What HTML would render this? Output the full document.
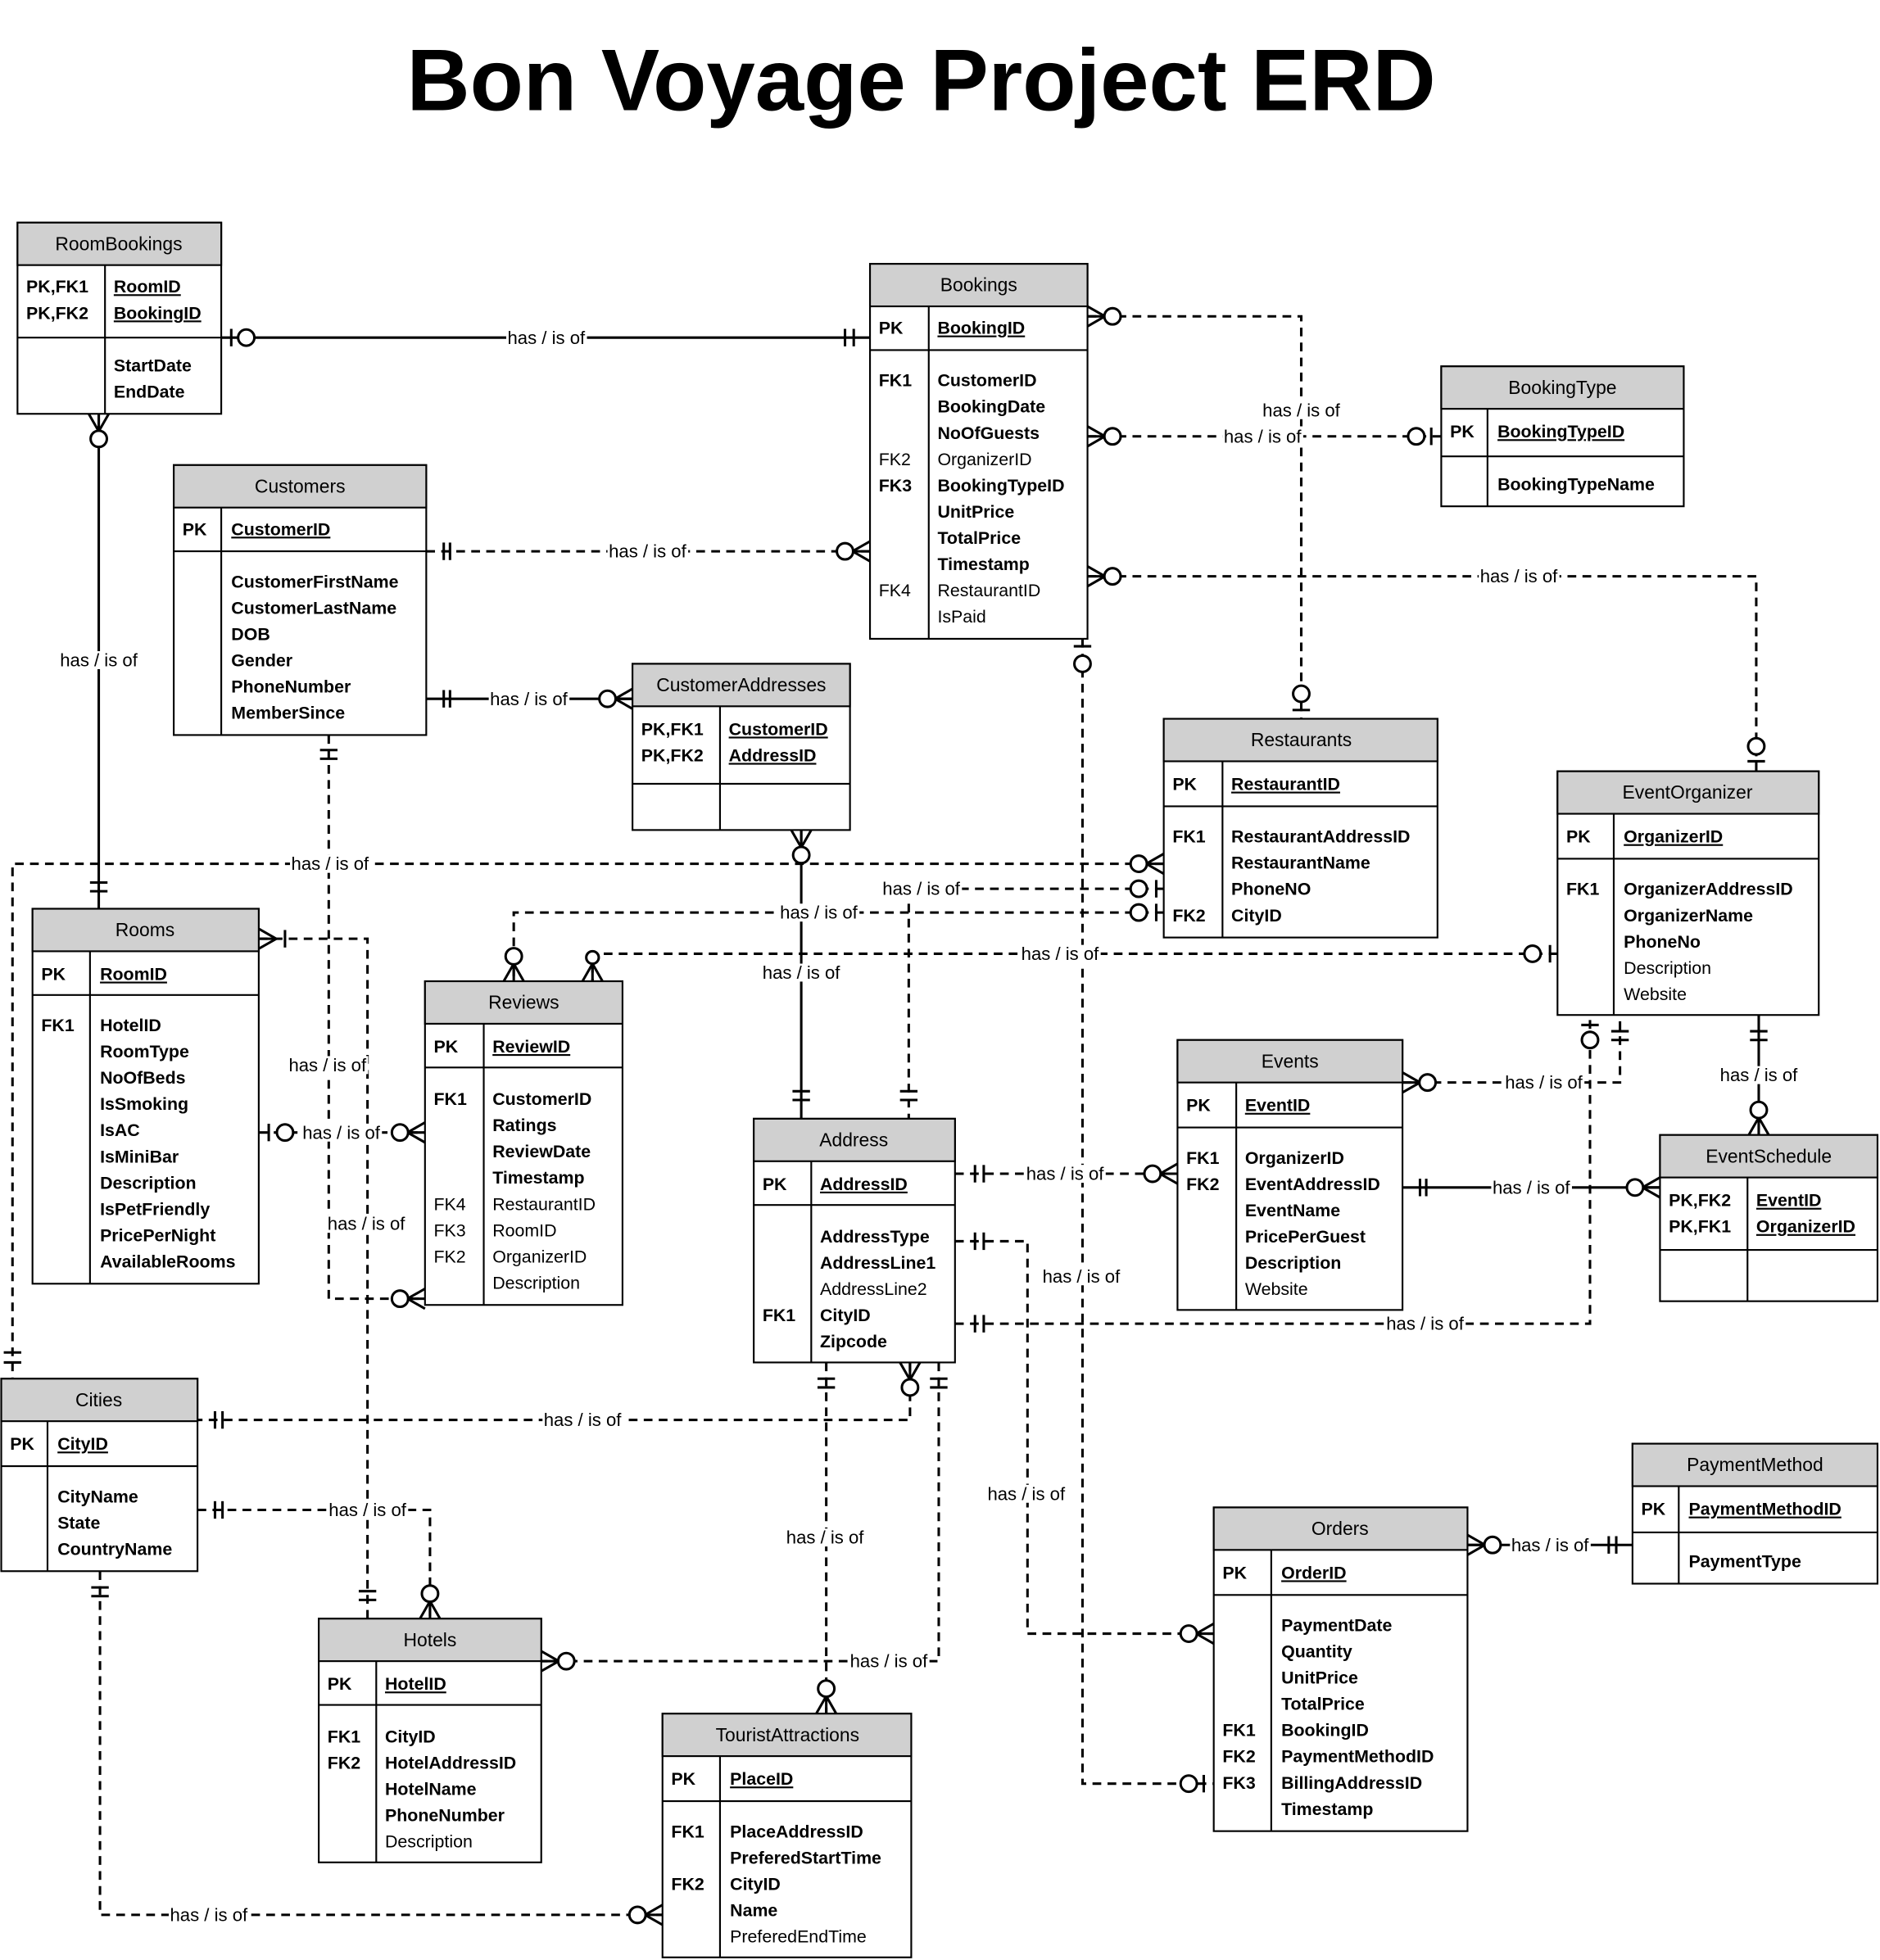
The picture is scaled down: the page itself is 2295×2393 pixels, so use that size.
<!DOCTYPE html>
<html><head><meta charset="utf-8"><style>
html,body{margin:0;padding:0;background:#fff}
svg{display:block}
text{font-family:"Liberation Sans",sans-serif;font-size:14px;fill:#000}
.b{font-weight:bold}
.u{text-decoration:underline}
.h{text-anchor:middle;font-size:15px}
.l{text-anchor:middle;font-size:14.5px}
</style></head><body>
<svg id="s" width="2295" height="2393" viewBox="0 0 1504 1568" xmlns="http://www.w3.org/2000/svg">
<rect width="1504" height="1568" fill="#fff"/>
<g id="tables"></g>
<g id="conn"></g>
<g id="marks"></g>
<text x="737" y="88" text-anchor="middle" style="font-size:70px;font-weight:bold">Bon Voyage Project ERD</text>

<!-- RoomBookings -->
<text class="h" x="95" y="200">RoomBookings</text>
<text class="b" x="21" y="234">PK,FK1</text><text class="b u" x="91" y="234">RoomID</text>
<text class="b" x="21" y="255">PK,FK2</text><text class="b u" x="91" y="255">BookingID</text>
<text class="b" x="91" y="297">StartDate</text><text class="b" x="91" y="318">EndDate</text>

<!-- Bookings -->
<text class="h" x="783" y="233">Bookings</text>
<text class="b" x="703" y="267">PK</text><text class="b u" x="750" y="267">BookingID</text>
<text class="b" x="703" y="309">FK1</text>
<text x="703" y="372">FK2</text>
<text class="b" x="703" y="393">FK3</text>
<text x="703" y="477">FK4</text>
<text class="b" x="750" y="309">CustomerID</text>
<text class="b" x="750" y="330">BookingDate</text>
<text class="b" x="750" y="351">NoOfGuests</text>
<text x="750" y="372">OrganizerID</text>
<text class="b" x="750" y="393">BookingTypeID</text>
<text class="b" x="750" y="414">UnitPrice</text>
<text class="b" x="750" y="435">TotalPrice</text>
<text class="b" x="750" y="456">Timestamp</text>
<text x="750" y="477">RestaurantID</text>
<text x="750" y="498">IsPaid</text>

<!-- BookingType -->
<text class="h" x="1250" y="315">BookingType</text>
<text class="b" x="1160" y="350">PK</text><text class="b u" x="1198" y="350">BookingTypeID</text>
<text class="b" x="1198" y="392">BookingTypeName</text>

<!-- Customers -->
<text class="h" x="240" y="394">Customers</text>
<text class="b" x="146" y="428">PK</text><text class="b u" x="185" y="428">CustomerID</text>
<text class="b" x="185" y="470">CustomerFirstName</text>
<text class="b" x="185" y="491">CustomerLastName</text>
<text class="b" x="185" y="512">DOB</text>
<text class="b" x="185" y="533">Gender</text>
<text class="b" x="185" y="554">PhoneNumber</text>
<text class="b" x="185" y="575">MemberSince</text>

<!-- CustomerAddresses -->
<text class="h" x="593" y="553">CustomerAddresses</text>
<text class="b" x="513" y="588">PK,FK1</text><text class="b u" x="583" y="588">CustomerID</text>
<text class="b" x="513" y="609">PK,FK2</text><text class="b u" x="583" y="609">AddressID</text>

<!-- Restaurants -->
<text class="h" x="1041" y="597">Restaurants</text>
<text class="b" x="938" y="632">PK</text><text class="b u" x="985" y="632">RestaurantID</text>
<text class="b" x="938" y="674">FK1</text><text class="b" x="938" y="737">FK2</text>
<text class="b" x="985" y="674">RestaurantAddressID</text>
<text class="b" x="985" y="695">RestaurantName</text>
<text class="b" x="985" y="716">PhoneNO</text>
<text class="b" x="985" y="737">CityID</text>

<!-- EventOrganizer -->
<text class="h" x="1350" y="639">EventOrganizer</text>
<text class="b" x="1253" y="674">PK</text><text class="b u" x="1299" y="674">OrganizerID</text>
<text class="b" x="1253" y="716">FK1</text>
<text class="b" x="1299" y="716">OrganizerAddressID</text>
<text class="b" x="1299" y="737">OrganizerName</text>
<text class="b" x="1299" y="758">PhoneNo</text>
<text x="1299" y="779">Description</text>
<text x="1299" y="800">Website</text>

<!-- Rooms -->
<text class="h" x="116" y="749">Rooms</text>
<text class="b" x="33" y="784">PK</text><text class="b u" x="80" y="784">RoomID</text>
<text class="b" x="33" y="825">FK1</text>
<text class="b" x="80" y="825">HotelID</text>
<text class="b" x="80" y="846">RoomType</text>
<text class="b" x="80" y="867">NoOfBeds</text>
<text class="b" x="80" y="888">IsSmoking</text>
<text class="b" x="80" y="909">IsAC</text>
<text class="b" x="80" y="930">IsMiniBar</text>
<text class="b" x="80" y="951">Description</text>
<text class="b" x="80" y="972">IsPetFriendly</text>
<text class="b" x="80" y="993">PricePerNight</text>
<text class="b" x="80" y="1014">AvailableRooms</text>

<!-- Reviews -->
<text class="h" x="419" y="807">Reviews</text>
<text class="b" x="347" y="842">PK</text><text class="b u" x="394" y="842">ReviewID</text>
<text class="b" x="347" y="884">FK1</text>
<text x="347" y="968">FK4</text><text x="347" y="989">FK3</text><text x="347" y="1010">FK2</text>
<text class="b" x="394" y="884">CustomerID</text>
<text class="b" x="394" y="905">Ratings</text>
<text class="b" x="394" y="926">ReviewDate</text>
<text class="b" x="394" y="947">Timestamp</text>
<text x="394" y="968">RestaurantID</text>
<text x="394" y="989">RoomID</text>
<text x="394" y="1010">OrganizerID</text>
<text x="394" y="1031">Description</text>

<!-- Address -->
<text class="h" x="683" y="917">Address</text>
<text class="b" x="610" y="952">PK</text><text class="b u" x="656" y="952">AddressID</text>
<text class="b" x="610" y="1057">FK1</text>
<text class="b" x="656" y="994">AddressType</text>
<text class="b" x="656" y="1015">AddressLine1</text>
<text x="656" y="1036">AddressLine2</text>
<text class="b" x="656" y="1057">CityID</text>
<text class="b" x="656" y="1078">Zipcode</text>

<!-- Events -->
<text class="h" x="1032" y="854">Events</text>
<text class="b" x="949" y="889">PK</text><text class="b u" x="996" y="889">EventID</text>
<text class="b" x="949" y="931">FK1</text><text class="b" x="949" y="952">FK2</text>
<text class="b" x="996" y="931">OrganizerID</text>
<text class="b" x="996" y="952">EventAddressID</text>
<text class="b" x="996" y="973">EventName</text>
<text class="b" x="996" y="994">PricePerGuest</text>
<text class="b" x="996" y="1015">Description</text>
<text x="996" y="1036">Website</text>

<!-- EventSchedule -->
<text class="h" x="1415" y="930">EventSchedule</text>
<text class="b" x="1335" y="965">PK,FK2</text><text class="b u" x="1405" y="965">EventID</text>
<text class="b" x="1335" y="986">PK,FK1</text><text class="b u" x="1405" y="986">OrganizerID</text>

<!-- Cities -->
<text class="h" x="79" y="1125">Cities</text>
<text class="b" x="8" y="1160">PK</text><text class="b u" x="46" y="1160">CityID</text>
<text class="b" x="46" y="1202">CityName</text>
<text class="b" x="46" y="1223">State</text>
<text class="b" x="46" y="1244">CountryName</text>

<!-- PaymentMethod -->
<text class="h" x="1404" y="1177">PaymentMethod</text>
<text class="b" x="1313" y="1212">PK</text><text class="b u" x="1351" y="1212">PaymentMethodID</text>
<text class="b" x="1351" y="1254">PaymentType</text>

<!-- Orders -->
<text class="h" x="1072" y="1228">Orders</text>
<text class="b" x="978" y="1263">PK</text><text class="b u" x="1025" y="1263">OrderID</text>
<text class="b" x="978" y="1389">FK1</text><text class="b" x="978" y="1410">FK2</text><text class="b" x="978" y="1431">FK3</text>
<text class="b" x="1025" y="1305">PaymentDate</text>
<text class="b" x="1025" y="1326">Quantity</text>
<text class="b" x="1025" y="1347">UnitPrice</text>
<text class="b" x="1025" y="1368">TotalPrice</text>
<text class="b" x="1025" y="1389">BookingID</text>
<text class="b" x="1025" y="1410">PaymentMethodID</text>
<text class="b" x="1025" y="1431">BillingAddressID</text>
<text class="b" x="1025" y="1452">Timestamp</text>

<!-- Hotels -->
<text class="h" x="344" y="1317">Hotels</text>
<text class="b" x="262" y="1352">PK</text><text class="b u" x="308" y="1352">HotelID</text>
<text class="b" x="262" y="1394">FK1</text><text class="b" x="262" y="1415">FK2</text>
<text class="b" x="308" y="1394">CityID</text>
<text class="b" x="308" y="1415">HotelAddressID</text>
<text class="b" x="308" y="1436">HotelName</text>
<text class="b" x="308" y="1457">PhoneNumber</text>
<text x="308" y="1478">Description</text>

<!-- TouristAttractions -->
<text class="h" x="630" y="1393">TouristAttractions</text>
<text class="b" x="537" y="1428">PK</text><text class="b u" x="584" y="1428">PlaceID</text>
<text class="b" x="537" y="1470">FK1</text><text class="b" x="537" y="1512">FK2</text>
<text class="b" x="584" y="1470">PlaceAddressID</text>
<text class="b" x="584" y="1491">PreferedStartTime</text>
<text class="b" x="584" y="1512">CityID</text>
<text class="b" x="584" y="1533">Name</text>
<text x="584" y="1554">PreferedEndTime</text>

<g id="labels">
<text class="l" x="437" y="275">has / is of</text>
<text class="l" x="79" y="533">has / is of</text>
<text class="l" x="518" y="446">has / is of</text>
<text class="l" x="423" y="564">has / is of</text>
<text class="l" x="1041" y="333">has / is of</text>
<text class="l" x="1010" y="354">has / is of</text>
<text class="l" x="1215" y="466">has / is of</text>
<text class="l" x="641" y="783">has / is of</text>
<text class="l" x="264" y="696">has / is of</text>
<text class="l" x="655" y="735">has / is of</text>
<text class="l" x="737" y="716">has / is of</text>
<text class="l" x="848" y="768">has / is of</text>
<text class="l" x="262" y="857">has / is of</text>
<text class="l" x="273" y="911">has / is of</text>
<text class="l" x="293" y="984">has / is of</text>
<text class="l" x="852" y="944">has / is of</text>
<text class="l" x="1225" y="955">has / is of</text>
<text class="l" x="1235" y="871">has / is of</text>
<text class="l" x="1407" y="865">has / is of</text>
<text class="l" x="1140" y="1064">has / is of</text>
<text class="l" x="865" y="1026">has / is of</text>
<text class="l" x="821" y="1200">has / is of</text>
<text class="l" x="466" y="1141">has / is of</text>
<text class="l" x="660" y="1235">has / is of</text>
<text class="l" x="711" y="1334">has / is of</text>
<text class="l" x="294" y="1213">has / is of</text>
<text class="l" x="167" y="1537">has / is of</text>
<text class="l" x="1240" y="1241">has / is of</text>
</g>
</svg>
<script>
var NS="http://www.w3.org/2000/svg";
function el(g,t,a){var e=document.createElementNS(NS,t);for(var k in a)e.setAttribute(k,a[k]);document.getElementById(g).appendChild(e);return e;}
function T(x1,y1,hb,pk,y2,x2,dv){
 el("tables","rect",{x:x1,y:y1,width:x2-x1,height:y2-y1,fill:"#fff",stroke:"#000","stroke-width":1.4});
 el("tables","rect",{x:x1,y:y1,width:x2-x1,height:hb-y1,fill:"#d0d0d0",stroke:"#000","stroke-width":1.4});
 el("tables","line",{x1:x1,y1:pk,x2:x2,y2:pk,stroke:"#000","stroke-width":1.4});
 el("tables","line",{x1:dv,y1:hb,x2:dv,y2:y2,stroke:"#000","stroke-width":1.4});
}
T(14,178,212,270,331,177,84);
T(696,211,245,280,511,870,743);
T(1153,293,327,365,405,1347,1190);
T(139,372,406,441,588,341,177);
T(506,531,565,627,664,680,576);
T(931,575,609,645,750,1150,978);
T(1246,617,651,687,812,1455,1291);
T(26,727,761,796,1027,207,72);
T(340,785,819,854,1044,498,387);
T(603,895,929,964,1090,764,649);
T(942,832,866,902,1048,1122,989);
T(1328,908,942,1000,1041,1502,1398);
T(1,1103,1137,1173,1257,158,38);
T(1306,1155,1189,1226,1267,1502,1343);
T(971,1206,1240,1276,1465,1174,1017);
T(255,1295,1329,1364,1490,433,301);
T(530,1371,1405,1441,1566,729,576);
function P(pts,d){el("conn","polyline",{points:pts.map(function(p){return p.join(",")}).join(" "),fill:"none",stroke:"#000","stroke-width":2,"stroke-dasharray":d?"7,5":"none"});}
function L(a,b,c,d){el("marks","line",{x1:a,y1:b,x2:c,y2:d,stroke:"#000","stroke-width":2});}
function C(x,y,r){el("marks","circle",{cx:x,cy:y,r:r||6.5,fill:"#fff",stroke:"#000","stroke-width":2});}
function hb(x,y){L(x,y-7,x,y+7);} function vb(x,y){L(x-7,y,x+7,y);}
function ch(ex,y,dir){var cx=ex-dir*14;L(cx,y,ex,y-8);L(cx,y,ex,y+8);L(cx,y,ex,y);}
function cv(x,ey,dir){var cy=ey-dir*14;L(x,cy,x-8,ey);L(x,cy,x+8,ey);L(x,cy,x,ey);}
P([[177,270],[696,270]]);hb(185,270);C(197,270);hb(676,270);hb(683,270);
P([[79,331],[79,727]]);cv(79,331,-1);C(79,351);vb(79,706);vb(79,713);
P([[341,441],[696,441]],1);hb(355,441);hb(360,441);ch(696,441,1);C(676,441);
P([[341,559],[506,559]]);hb(355,559);hb(360,559);ch(506,559,1);C(486,559);
P([[870,253],[1041,253],[1041,575]],1);ch(870,253,-1);C(890,253);vb(1041,568);C(1041,555);
P([[870,349],[1153,349]],1);ch(870,349,-1);C(890,349);hb(1145,349);C(1133,349);
P([[870,461],[1405,461],[1405,617]],1);ch(870,461,-1);C(890,461);vb(1405,609);C(1405,597);
P([[866,511],[866,1427],[971,1427]],1);vb(866,517);C(866,531);hb(963,1427);C(951,1427);
P([[263,588],[263,1039],[340,1039]],1);vb(263,600);vb(263,607);ch(340,1039,1);C(320,1039);
P([[641,664],[641,895]]);cv(641,664,-1);C(641,684);vb(641,873);vb(641,880);
P([[931,691],[10,691],[10,1103]],1);ch(931,691,1);C(911,691);vb(10,1082);vb(10,1090);
P([[931,730],[411,730],[411,785]],1);hb(925,730);C(911,730);cv(411,785,1);C(411,765);
P([[931,711],[727,711],[727,895]],1);hb(925,711);C(911,711);vb(727,873);vb(727,880);
P([[1246,763],[474,763],[474,785]],1);hb(1240,763);C(1226,763);cv(474,785,1);C(474,766,5);
P([[207,751],[294,751],[294,1295]],1);ch(207,751,-1);hb(228,751);vb(294,1273);vb(294,1280);
P([[207,906],[340,906]],1);hb(215,906);C(228,906);ch(340,906,1);C(320,906);
P([[764,939],[942,939]],1);hb(780,939);hb(787,939);ch(942,939,1);C(922,939);
P([[1122,950],[1328,950]]);hb(1136,950);hb(1141,950);ch(1328,950,1);C(1308,950);
P([[1122,866],[1296,866],[1296,812]],1);ch(1122,866,-1);C(1142,866);vb(1296,825);vb(1296,832);
P([[1407,812],[1407,908]]);vb(1407,825);vb(1407,832);cv(1407,908,1);C(1407,888);
P([[764,1059],[1272,1059],[1272,812]],1);hb(780,1059);hb(787,1059);vb(1272,820);C(1272,832);
P([[764,993],[822,993],[822,1307],[971,1307]],1);hb(780,993);hb(787,993);ch(971,1307,1);C(951,1307);
P([[728,1090],[728,1136],[158,1136]],1);cv(728,1090,-1);C(728,1110);hb(172,1136);hb(178,1136);
P([[661,1090],[661,1371]],1);vb(661,1103);vb(661,1110);cv(661,1371,1);C(661,1351);
P([[751,1090],[751,1329],[433,1329]],1);vb(751,1103);vb(751,1110);ch(433,1329,-1);C(453,1329);
P([[158,1208],[344,1208],[344,1295]],1);hb(172,1208);hb(178,1208);cv(344,1295,1);C(344,1275);
P([[80,1257],[80,1532],[530,1532]],1);vb(80,1270);vb(80,1277);ch(530,1532,1);C(510,1532);
P([[1174,1236],[1306,1236]]);ch(1174,1236,-1);C(1194,1236);hb(1287,1236);hb(1293,1236);
var g=document.getElementById("labels");
Array.prototype.slice.call(g.querySelectorAll("text")).forEach(function(t){
 var b=t.getBBox();
 var r=document.createElementNS(NS,"rect");
 r.setAttribute("x",b.x-1);r.setAttribute("y",b.y+1);r.setAttribute("width",b.width+2);r.setAttribute("height",b.height-2);r.setAttribute("fill","#fff");
 g.insertBefore(r,t);
});
</script>
</body></html>
